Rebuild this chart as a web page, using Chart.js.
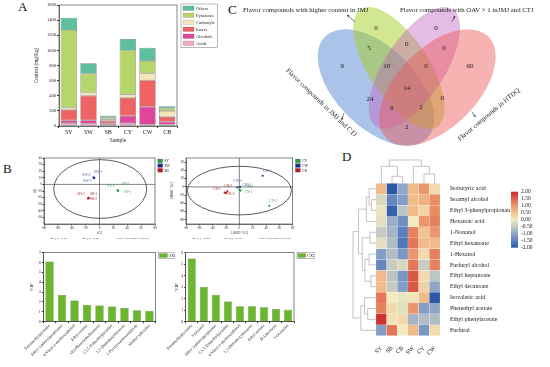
<!DOCTYPE html>
<html>
<head>
<meta charset="utf-8">
<script src="https://cdn.jsdelivr.net/npm/chart.js@4.4.0/dist/chart.umd.min.js"></script>
<style>
  body { margin: 0; background: #fff; }
  #fig { position: relative; width: 550px; height: 367px; overflow: hidden; background: #fff;
         font-family: 'Liberation Serif', 'Times New Roman', serif; }
  #fig canvas { position: absolute; }
  .tag { position: absolute; font-size: 13px; line-height: 1; color: #111; }
</style>
</head>
<body>
<div id="fig">
  <div class="tag" style="left:18px;top:0px">A</div>
  <div class="tag" style="left:3px;top:162px">B</div>
  <div class="tag" style="left:228px;top:3px">C</div>
  <div class="tag" style="left:342px;top:150px">D</div>
  <canvas id="stack" width="228" height="150" style="left:0;top:0"></canvas>
  <canvas id="venn" width="325" height="150" style="left:225px;top:0"></canvas>
  <canvas id="pca1" width="175" height="90" style="left:0;top:150px"></canvas>
  <canvas id="pca2" width="150" height="90" style="left:165px;top:150px"></canvas>
  <canvas id="vip1" width="175" height="122" style="left:0;top:245px"></canvas>
  <canvas id="vip2" width="150" height="122" style="left:165px;top:245px"></canvas>
  <canvas id="heat" width="220" height="222" style="left:330px;top:145px"></canvas>
</div>
<script>
const SERIF = "'Liberation Serif', 'Times New Roman', serif";
Chart.defaults.font.family = SERIF;
Chart.defaults.color = '#222';
Chart.defaults.animation = false;
Chart.defaults.plugins.legend.display = false;
Chart.defaults.plugins.tooltip.enabled = false;

// ---------- A: content by compound class (mg/Kg)
const samples = ['SY', 'SW', 'SB', 'CY', 'CW', 'CB'];
const classNames = ['Acids', 'Alcohols', 'Esters', 'Carbonyls', 'Pyrazines', 'Others'];
const acids     = [40, 30, 15, 40, 20, 20];
const alcohols  = [35, 45, 20, 95, 235, 35];
const esters    = [135, 325, 30, 235, 350, 65];
const carbonyls = [30, 45, 20, 45, 90, 80];
const pyrazines = [1030, 245, 25, 585, 165, 35];
const others    = [160, 140, 27, 150, 175, 25];
const contentTicks = [0, 200, 400, 600, 800, 1000, 1200, 1400, 1600];

// ---------- B: PCA scores (t[1], t[2]) for three replicates
const pcaGroupsS = ['SY', 'SW', 'SB'];
const pcaS_t1 = [[26, 27, 26.5], [-8, -8.5, -7.5], [-16, -16.5, -15.5]];
const pcaS_t2 = [[-9, -10, -9.5], [10, 10.5, 9.5], [-21, -21.5, -20.5]];
const pcaGroupsC = ['CY', 'CW', 'CB'];
const pcaC_t1 = [[45, 0, 2], [35, -3, 1], [-22, -18, -20]];
const pcaC_t2 = [[-46, -7, -9], [27, -1, 0], [-14, -11, -15]];

// ---------- B: VIP values
const vipNamesS = ['Tetramethylpyrazine', 'Ethyl 3-phenylpropionate', '4-Vinyl-2-methoxyphenol', 'Ethyl acetate',
  '(E)-Phenylethylbenzene', '2,3,5-Trimethylpyrazine', '1,2-Dimethoxybenzene', '2-Pyrrolecarboxaldehyde', 'Methyl salicylate'];
const vipS = [6.1, 2.7, 2.15, 1.7, 1.65, 1.55, 1.4, 1.15, 1.12];
const vipNamesC = ['Tetramethylpyrazine', '3-Octanol', 'Ethyl 3-phenylpropionate', '2,3,5-Trimethylpyrazine',
  '4-Vinyl-2-methoxyphenol', '1,2-Dimethoxybenzene', 'Ethyl acetate', 'D-Limonene', '3-Octanone'];
const vipC = [5.5, 3.05, 2.35, 1.75, 1.35, 1.35, 1.25, 1.1, 1.05];

// ---------- C: Venn counts (A = JMJ & CTJ, B = higher in JMJ, C = OAV>1, D = HTDQ)
const vennRegions = ['A', 'B', 'C', 'D', 'AB', 'BC', 'CD', 'ABC', 'BCD', 'ABCD', 'AC', 'ACD', 'ABD', 'BD', 'AD'];
const vennCounts  = [9, 0, 0, 60, 5, 0, 0, 10, 0, 14, 24, 6, 2, 0, 2];

// ---------- D: heatmap (z-scores)
const hmSamples = ['SY', 'SB', 'CB', 'SW', 'CY', 'CW'];
const hmCompounds = ['Isobutyric acid', 'Isoamyl alcohol', 'Ethyl 3-phenylpropionate', 'Hexanoic acid', '1-Nonanol',
  'Ethyl hexanoate', '1-Hexanol', 'Furfuryl alcohol', 'Ethyl heptanoate', 'Ethyl decanoate', 'Isovaleric acid',
  'Phenethyl acetate', 'Ethyl phenylacetate', 'Furfural'];
const hmValues = [
  [0.6, -2.0, -1.0, 0.6, 1.0, 0.2],
  [-0.3, -1.4, -1.1, 0.6, 0.7, 1.1],
  [-0.1, -1.9, -0.6, 0.6, 0.3, 1.1],
  [-0.2, -0.9, -1.3, 0.0, 1.0, 1.2],
  [-0.5, -0.8, -1.5, 1.2, 0.5, 1.0],
  [-0.2, -0.7, -1.6, 1.3, 0.6, 0.6],
  [-1.1, -0.7, -1.2, 1.0, 0.2, 1.2],
  [-1.4, -0.5, -0.3, 1.3, -0.5, 1.2],
  [0.6, -0.6, -1.2, 1.6, 0.2, -0.6],
  [0.6, -0.5, -1.1, 1.6, 0.3, -1.0],
  [1.3, 0.0, -0.1, 0.1, 0.6, -2.0],
  [1.2, 0.2, -0.2, 1.0, -1.1, -1.0],
  [1.9, 0.1, 0.2, -0.8, -0.7, -0.7],
  [-1.1, 1.3, 0.0, 0.6, -1.2, 0.2]
];
// clustering merges: [childA, childB, height], new node ids continue after the leaves
const colLinks = [[1, 2, 3.0], [4, 5, 4.0], [0, 6, 7.3], [3, 7, 7.3], [8, 9, 10]];
const rowLinks = [[1, 2, 1.0], [0, 14, 1.5], [15, 3, 2.1], [4, 5, 1.3], [6, 7, 1.5], [8, 9, 1.1], [18, 19, 2.4],
  [17, 20, 3.0], [16, 21, 3.8], [11, 12, 1.8], [10, 23, 2.5], [24, 13, 3.3], [22, 25, 5.0]];
const zTicks = [2, 1.5, 1, 0.5, 0, -0.5, -1, -1.5, -2];

// ================= helpers
const zStops = [[-2, '#2c58a8'], [-1.5, '#5a7fbd'], [-1, '#8fa6c7'], [-0.5, '#c7ccc3'], [0, '#f3eabf'],
  [0.5, '#f2c391'], [1, '#ec966b'], [1.5, '#df6249'], [2, '#c9282b']];
function hex(c) { return [1, 3, 5].map(i => parseInt(c.substr(i, 2), 16)); }
function zColor(v) {
  for (let i = 1; i < zStops.length; i++) {
    if (v <= zStops[i][0]) {
      const [v0, c0] = zStops[i - 1], [v1, c1] = zStops[i];
      const t = Math.max(0, (v - v0) / (v1 - v0));
      const a = hex(c0), b = hex(c1);
      return `rgb(${a.map((x, k) => Math.round(x + (b[k] - x) * t)).join(',')})`;
    }
  }
  return zStops[zStops.length - 1][1];
}
const pinW = w => s => { s.width = w; };
const pinH = h => s => { s.height = h; };

const frame = {
  id: 'frame',
  afterDraw(chart, args, o) {
    if (!o.show) return;
    const { ctx, chartArea: a } = chart;
    ctx.save(); ctx.strokeStyle = '#333'; ctx.lineWidth = 0.6;
    ctx.strokeRect(a.left, a.top, a.right - a.left, a.bottom - a.top);
    ctx.restore();
  }
};

const boxLegend = {
  id: 'boxLegend',
  afterDraw(chart, args, o) {
    if (!o.show) return;
    const { ctx, chartArea: a } = chart;
    let items = chart.data.datasets.map(d => ({ text: d.label, color: d.backgroundColor }));
    if (o.reverse) items = items.reverse();
    const x0 = a.right + o.dx, y0 = a.top + o.dy;
    ctx.save();
    ctx.font = o.size + 'px ' + SERIF;
    ctx.textBaseline = 'middle';
    let wMax = 0;
    items.forEach((it, i) => {
      const y = y0 + o.pad + i * o.step;
      ctx.fillStyle = it.color;
      ctx.fillRect(x0 + o.pad, y, o.boxW, o.boxH);
      ctx.strokeStyle = 'rgba(0,0,0,0.35)'; ctx.lineWidth = 0.3;
      ctx.strokeRect(x0 + o.pad, y, o.boxW, o.boxH);
      ctx.fillStyle = '#222';
      ctx.fillText(it.text, x0 + o.pad + o.boxW + o.gap, y + o.boxH / 2 + 0.3);
      wMax = Math.max(wMax, ctx.measureText(it.text).width);
    });
    if (o.frame) {
      ctx.strokeStyle = '#777'; ctx.lineWidth = 0.5;
      ctx.strokeRect(x0, y0, o.pad * 2 + o.boxW + o.gap + wMax + 1, o.pad * 2 + (items.length - 1) * o.step + o.boxH);
    }
    ctx.restore();
  }
};

const pcaGuides = {
  id: 'pcaGuides',
  beforeDatasetsDraw(chart, args, o) {
    if (!o.ellipse) return;
    const { ctx, chartArea: a, scales: { x, y } } = chart;
    const e = o.ellipse;
    ctx.save();
    ctx.strokeStyle = '#333'; ctx.lineWidth = 0.6;
    ctx.beginPath();
    ctx.moveTo(x.getPixelForValue(0), a.top); ctx.lineTo(x.getPixelForValue(0), a.bottom);
    ctx.moveTo(a.left, y.getPixelForValue(0)); ctx.lineTo(a.right, y.getPixelForValue(0));
    ctx.stroke();
    ctx.lineWidth = 0.8;
    ctx.beginPath();
    ctx.ellipse(x.getPixelForValue(e.cx), y.getPixelForValue(e.cy),
      Math.abs(x.getPixelForValue(e.cx + e.rx) - x.getPixelForValue(e.cx)),
      Math.abs(y.getPixelForValue(e.cy + e.ry) - y.getPixelForValue(e.cy)), 0, 0, Math.PI * 2);
    ctx.stroke();
    ctx.restore();
  },
  afterDatasetsDraw(chart, args, o) {
    if (!o.tags) return;
    const ctx = chart.ctx;
    ctx.save();
    ctx.font = '3.6px ' + SERIF; ctx.textBaseline = 'middle';
    chart.data.datasets.forEach((ds, di) => {
      chart.getDatasetMeta(di).data.forEach((pt, i) => {
        const [dx, dy] = o.tags[di][i];
        ctx.fillStyle = o.tagColors[di];
        ctx.fillText(`${ds.label}-${i + 1}`, pt.x + dx, pt.y + dy);
      });
    });
    ctx.fillStyle = '#444'; ctx.font = '2.8px ' + SERIF;
    ctx.textBaseline = 'alphabetic';
    o.foot.forEach(([t, fx]) => ctx.fillText(t, chart.chartArea.left + fx, chart.height - 1));
    ctx.restore();
  }
};

// ================= A: stacked bars
const classColors = ['#f4a8c9', '#e0479b', '#ef6462', '#f6e4ba', '#b6d66c', '#5fbe9b'];
const classSeries = [acids, alcohols, esters, carbonyls, pyrazines, others];
new Chart(document.getElementById('stack'), {
  type: 'bar',
  data: {
    labels: samples,
    datasets: classNames.map((n, i) => ({
      label: n, data: classSeries[i], backgroundColor: classColors[i],
      borderColor: '#555', borderWidth: 0.5, borderSkipped: false,
      barPercentage: 0.83, categoryPercentage: 1
    }))
  },
  options: {
    responsive: false,
    layout: { padding: { left: 30, top: 5, right: 51, bottom: 0 } },
    scales: {
      x: {
        stacked: true,
        grid: { drawOnChartArea: false, tickLength: 2, color: '#333' },
        border: { color: '#333', width: 0.6 },
        ticks: { font: { size: 6 }, padding: 1 },
        title: { display: true, text: 'Sample', font: { size: 5.5 }, padding: { top: 0, bottom: 6.5 } },
        afterFit: pinH(24)
      },
      y: {
        stacked: true, min: 0, max: 1600,
        afterBuildTicks: s => { s.ticks = contentTicks.map(v => ({ value: v })); },
        grid: { drawOnChartArea: false, tickLength: 2, color: '#333' },
        border: { color: '#333', width: 0.6 },
        ticks: { font: { size: 4.5 }, padding: 1, callback: v => String(v) },
        title: { display: true, text: 'Content (mg/Kg)', font: { size: 5.2 }, padding: { top: 4, bottom: 0 } },
        afterFit: pinW(29)
      }
    },
    plugins: {
      frame: { show: true },
      boxLegend: { show: true, reverse: true, dx: 4, dy: -1, pad: 2, step: 7, boxW: 11, boxH: 4.5, gap: 2, size: 4.5, frame: true }
    }
  },
  plugins: [frame, boxLegend]
});

// ================= B: PCA score plots
const groupColors = ['#2f9b46', '#23338c', '#b21f24'];
const tagColors = ['#3c9a4e', '#4a5aa8', '#a83536'];
function pcaChart(id, groups, t1, t2, opts) {
  return new Chart(document.getElementById(id), {
    type: 'scatter',
    data: {
      datasets: groups.map((g, i) => ({
        label: g,
        data: t1[i].map((v, k) => ({ x: v, y: t2[i][k] })),
        backgroundColor: groupColors[i], pointBackgroundColor: groupColors[i],
        pointRadius: 1.1, pointBorderWidth: 0
      }))
    },
    options: {
      responsive: false,
      layout: { padding: opts.pad },
      scales: {
        x: {
          min: -80, max: 80,
          afterBuildTicks: s => { s.ticks = [-80, -60, -40, -20, 0, 20, 40, 60, 80].map(v => ({ value: v })); },
          grid: { drawOnChartArea: false, tickLength: 1.5, color: '#333' },
          border: { color: '#333', width: 0.6 },
          ticks: { font: { size: 3.2 }, padding: 0.5 },
          title: { display: true, text: opts.xTitle, font: { size: 3 }, padding: { top: 0, bottom: 5 } },
          afterFit: pinH(16)
        },
        y: {
          min: opts.yMin, max: opts.yMax,
          afterBuildTicks: s => { s.ticks = opts.yTicks.map(v => ({ value: v })); },
          grid: { drawOnChartArea: false, tickLength: 1.5, color: '#333' },
          border: { color: '#333', width: 0.6 },
          ticks: { font: { size: 3.2 }, padding: 0.5 },
          title: { display: true, text: opts.yTitle, font: { size: 3 }, padding: { top: opts.yTitlePad, bottom: 0 } },
          afterFit: pinW(opts.yW)
        }
      },
      plugins: {
        frame: { show: true },
        pcaGuides: { ellipse: opts.ellipse, tags: opts.tags, tagColors: tagColors, foot: opts.foot },
        boxLegend: { show: true, dx: 2.7, dy: 1, pad: 0, step: 4.7, boxW: 5, boxH: 3.8, gap: 1.5, size: 3.8 }
      }
    },
    plugins: [pcaGuides, frame, boxLegend]
  });
}
pcaChart('pca1', pcaGroupsS, pcaS_t1, pcaS_t2, {
  pad: { left: 31, top: 8, right: 20, bottom: 0 }, yW: 13, yTitlePad: 2,
  yMin: -60, yMax: 40, yTicks: [-50, -40, -30, -20, -10, 0, 10, 20, 30, 40],
  xTitle: 't[1]', yTitle: 't[2]',
  ellipse: { cx: 1, cy: -7, rx: 67, ry: 44.5 },
  tags: [[[6.7, 1.6], [3.4, -6.7], [-10.6, -4.4]], [[0, -5.6], [-11.3, -2], [-11, 3]], [[1.7, -4], [1.7, 0], [-11.6, -4]]],
  foot: [['R2X[1] = 0.477', 6], ['R2X[2] = 0.24', 38], ["Ellipse: Hotelling's T2 (95%)", 72]]
});
pcaChart('pca2', pcaGroupsC, pcaC_t1, pcaC_t2, {
  pad: { left: 5, top: 8, right: 22.3, bottom: 0 }, yW: 16, yTitlePad: 0.7,
  yMin: -90, yMax: 70, yTicks: [-80, -60, -40, -20, 0, 20, 40, 60],
  xTitle: '1.00205 * t[1]', yTitle: '1.00301 * t[2]',
  ellipse: { cx: 0, cy: -9, rx: 78, ry: 59 },
  tags: [[[0, -4.6], [6, -2.3], [4, 1.7]], [[0.4, -5], [-4, -6.7], [2.3, -1.7]], [[-11.7, -3.4], [-3, -5], [0.7, 1]]],
  foot: [['R2X[1] = 0.552', 6], ['R2X[2] = 0.168', 38], ["Ellipse: Hotelling's T2 (95%)", 72]]
});

// ================= B: VIP bars
function vipChart(id, names, vals, group, opts) {
  return new Chart(document.getElementById(id), {
    type: 'bar',
    data: {
      labels: names,
      datasets: [{ label: group, data: vals, backgroundColor: '#6cb52f', borderColor: '#3f7d1c', borderWidth: 0.5,
        borderSkipped: 'bottom', barPercentage: 0.67, categoryPercentage: 1 }]
    },
    options: {
      responsive: false,
      layout: { padding: opts.pad },
      scales: {
        x: {
          grid: { drawOnChartArea: false, tickLength: 1.5, color: '#333' },
          border: { color: '#333', width: 0.6 },
          ticks: { font: { size: 4.2 }, padding: 0, minRotation: 45, maxRotation: 45, autoSkip: false },
          afterFit: pinH(45.3)
        },
        y: {
          min: 0, max: opts.yMax,
          ticks: { stepSize: 1, font: { size: 4 }, padding: 1 },
          grid: { drawOnChartArea: false, tickLength: 1.5, color: '#333' },
          border: { color: '#333', width: 0.6 },
          title: { display: true, text: 'VIP', font: { size: 5 }, padding: { top: opts.yTitlePad, bottom: 0 } },
          afterFit: pinW(opts.yW)
        }
      },
      plugins: {
        frame: { show: true },
        boxLegend: { show: true, dx: 3, dy: 0, pad: 0.8, step: 5, boxW: 8, boxH: 4, gap: 1.5, size: 4, frame: true }
      }
    },
    plugins: [frame, boxLegend]
  });
}
vipChart('vip1', vipNamesS, vipS, 'SXQ', { pad: { left: 28, top: 7.7, right: 19.3, bottom: 0 }, yW: 15.3, yTitlePad: 1, yMax: 7 });
vipChart('vip2', vipNamesC, vipC, 'CXQ', { pad: { left: 8, top: 7.7, right: 21, bottom: 0 }, yW: 12.7, yTitlePad: 0.7, yMax: 6 });

// ================= C: Venn diagram (axes in page pixels)
const vennLabelX = [342.3, 376, 436, 470, 369, 406.7, 444, 386.7, 426, 406.7, 370, 391.7, 421, 442.3, 406.7];
const vennLabelY = [66, 27.7, 28, 66, 47.7, 44.3, 47.7, 66, 66, 88.3, 99, 108.3, 106.7, 98.3, 126.7];
const vennPlugin = {
  id: 'venn',
  beforeDatasetsDraw(chart, args, o) {
    const { ctx, scales: { x, y } } = chart;
    ctx.save();
    o.shapes.forEach(s => {
      ctx.beginPath();
      ctx.ellipse(x.getPixelForValue(s.cx), y.getPixelForValue(s.cy), s.a, s.b, s.rot * Math.PI / 180, 0, Math.PI * 2);
      ctx.fillStyle = s.fill; ctx.fill();
    });
    ctx.fillStyle = '#1a1a1a';
    ctx.font = '6.8px ' + SERIF; ctx.textBaseline = 'alphabetic';
    o.titles.forEach(t => {
      ctx.save();
      ctx.translate(x.getPixelForValue(t.x), y.getPixelForValue(t.y));
      ctx.rotate(t.rot * Math.PI / 180);
      ctx.textAlign = t.rot ? 'center' : 'left';
      ctx.fillText(t.text, 0, 0);
      ctx.restore();
    });
    ctx.strokeStyle = '#222'; ctx.lineWidth = 0.6;
    o.arrows.forEach(([x1, y1, x2, y2]) => {
      const px1 = x.getPixelForValue(x1), py1 = y.getPixelForValue(y1);
      const px2 = x.getPixelForValue(x2), py2 = y.getPixelForValue(y2);
      const ang = Math.atan2(py2 - py1, px2 - px1);
      ctx.beginPath(); ctx.moveTo(px1, py1); ctx.lineTo(px2, py2); ctx.stroke();
      ctx.beginPath();
      ctx.moveTo(px2, py2);
      ctx.lineTo(px2 - 2.4 * Math.cos(ang - 0.45), py2 - 2.4 * Math.sin(ang - 0.45));
      ctx.lineTo(px2 - 2.4 * Math.cos(ang + 0.45), py2 - 2.4 * Math.sin(ang + 0.45));
      ctx.closePath(); ctx.fillStyle = '#222'; ctx.fill();
    });
    ctx.restore();
  },
  afterDatasetsDraw(chart) {
    const ctx = chart.ctx;
    ctx.save();
    ctx.font = '7px ' + SERIF; ctx.fillStyle = '#1a1a1a';
    ctx.textAlign = 'center'; ctx.textBaseline = 'middle';
    chart.getDatasetMeta(0).data.forEach((pt, i) => ctx.fillText(String(vennCounts[i]), pt.x, pt.y));
    ctx.restore();
  }
};
new Chart(document.getElementById('venn'), {
  type: 'scatter',
  data: {
    datasets: [{ label: 'counts', data: vennRegions.map((r, i) => ({ x: vennLabelX[i], y: vennLabelY[i] })), pointRadius: 0 }]
  },
  options: {
    responsive: false,
    layout: { padding: 0 },
    scales: {
      x: { display: false, min: 225, max: 550 },
      y: { display: false, min: 0, max: 150, reverse: true }
    },
    plugins: {
      venn: {
        shapes: [
          { cx: 376, cy: 87.5, a: 72, b: 40, rot: 45, fill: 'rgba(80,130,210,0.48)' },
          { cx: 399, cy: 68, a: 70, b: 30, rot: 57, fill: 'rgba(165,208,35,0.5)' },
          { cx: 414.4, cy: 68, a: 70, b: 30, rot: -57, fill: 'rgba(190,95,190,0.42)' },
          { cx: 437.4, cy: 87.5, a: 72, b: 40, rot: -45, fill: 'rgba(238,88,88,0.46)' }
        ],
        titles: [
          { text: 'Flavor compounds with higher content in JMJ', x: 243, y: 12, rot: 0 },
          { text: 'Flavor compounds with OAV > 1 inJMJ and CTJ', x: 400, y: 12, rot: 0 },
          { text: 'Flavor compounds in JMJ and CTJ', x: 320, y: 104, rot: 44 },
          { text: 'Flavor compounds in HTDQ', x: 490, y: 116, rot: -40 }
        ],
        arrows: [[355, 21.7, 347, 15], [451.7, 21.7, 455, 16], [344, 113, 341.7, 120], [471.7, 111.7, 475.5, 117]]
      }
    }
  },
  plugins: [vennPlugin]
});

// ================= D: clustered heatmap
function drawTree(ctx, links, leafPos, base, k, columns) {
  const pos = leafPos.slice(), hgt = leafPos.map(() => 0);
  links.forEach(([p, q, h]) => {
    const dp = base - hgt[p] * k, dq = base - hgt[q] * k, dh = base - h * k;
    ctx.beginPath();
    if (columns) {
      ctx.moveTo(pos[p], dp); ctx.lineTo(pos[p], dh); ctx.lineTo(pos[q], dh); ctx.lineTo(pos[q], dq);
    } else {
      ctx.moveTo(dp, pos[p]); ctx.lineTo(dh, pos[p]); ctx.lineTo(dh, pos[q]); ctx.lineTo(dq, pos[q]);
    }
    ctx.stroke();
    pos.push((pos[p] + pos[q]) / 2); hgt.push(h);
  });
}
const heatExtras = {
  id: 'heatExtras',
  afterDraw(chart, args, o) {
    const { ctx, chartArea: a, scales: { x, y } } = chart;
    ctx.save();
    ctx.strokeStyle = '#9a9a9a'; ctx.lineWidth = 0.6;
    drawTree(ctx, colLinks, hmSamples.map((s, i) => x.getPixelForValue(i)), a.top, 2.33, true);
    drawTree(ctx, rowLinks, hmCompounds.map((c, i) => y.getPixelForValue(i + 1)), a.left, 4.6, false);
    // colour bar
    const cx = a.right + 71, cy = a.top + 8.4, cw = 7, ch = 56;
    const g = ctx.createLinearGradient(0, cy + ch, 0, cy);
    zStops.forEach(([v, c]) => g.addColorStop((v + 2) / 4, c));
    ctx.fillStyle = g; ctx.fillRect(cx, cy, cw, ch);
    ctx.fillStyle = '#222'; ctx.font = '5.5px ' + SERIF; ctx.textBaseline = 'middle';
    zTicks.forEach(v => ctx.fillText(v.toFixed(2), cx + 10, cy + (2 - v) / 4 * ch));
    ctx.restore();
  }
};
new Chart(document.getElementById('heat'), {
  type: 'bar',
  data: {
    labels: hmSamples,
    datasets: hmCompounds.map((name, r) => ({
      label: name,
      data: hmValues[r].map(() => [r + 0.5, r + 1.5]),
      backgroundColor: hmValues[r].map(zColor),
      borderColor: 'rgba(255,255,255,0.45)', borderWidth: 0.4, borderSkipped: false,
      grouped: false, barPercentage: 1, categoryPercentage: 1
    }))
  },
  options: {
    responsive: false,
    layout: { padding: { left: 46, top: 38.3, right: 40, bottom: 0 } },
    scales: {
      x: {
        grid: { display: false }, border: { display: false },
        ticks: { font: { size: 6 }, padding: 1, minRotation: 45, maxRotation: 45, autoSkip: false },
        afterFit: pinH(31.3)
      },
      y: {
        position: 'right', reverse: true, min: 0.5, max: 14.5,
        afterBuildTicks: s => { s.ticks = hmCompounds.map((c, i) => ({ value: i + 1 })); },
        grid: { display: false }, border: { display: false },
        ticks: { font: { size: 6 }, padding: 2, autoSkip: false, callback: v => hmCompounds[v - 1] },
        afterFit: pinW(70)
      }
    }
  },
  plugins: [heatExtras]
});
</script>
</body>
</html>
